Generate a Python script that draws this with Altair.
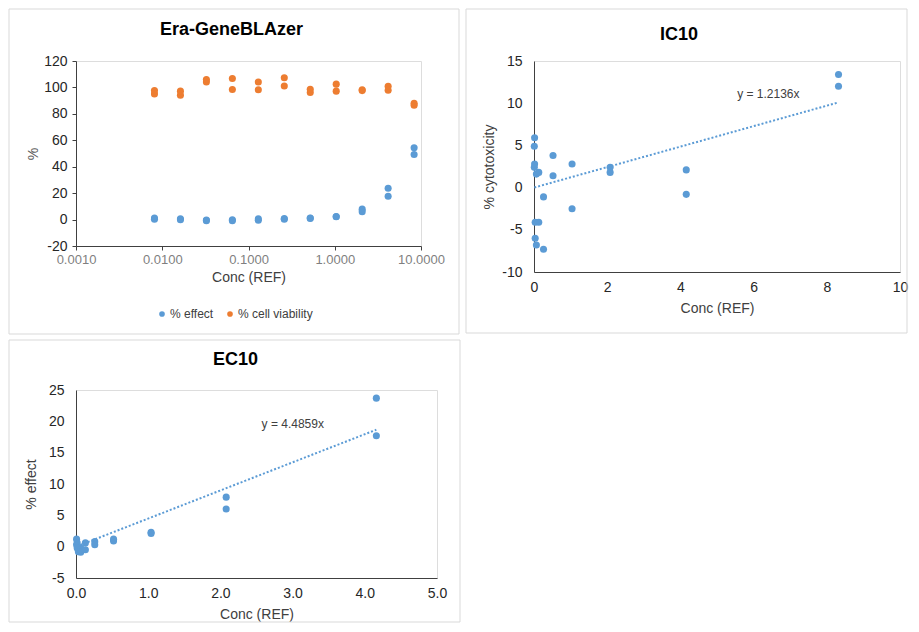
import altair as alt
import pandas as pd

# ---------------- data ----------------
conc = [0.008125, 0.01625, 0.0325, 0.065, 0.13, 0.26, 0.52, 1.04, 2.08, 4.16, 8.32]

effect_rep1 = [1.2, 0.6, -0.4, -0.2, 0.6, 0.8, 1.2, 2.3, 7.9, 23.7, 54.3]
effect_rep2 = [0.3, -0.2, -0.8, -0.9, -0.5, 0.3, 0.9, 2.1, 6.0, 17.7, 49.2]

viability_rep1 = [95.1, 94.1, 104.1, 98.4, 98.2, 101.1, 96.2, 97.2, 97.6, 97.9, 86.6]
viability_rep2 = [97.6, 97.2, 106.0, 106.8, 104.1, 107.3, 98.6, 102.5, 98.2, 100.8, 88.0]

cytotox_rep1 = [4.9, 5.9, -4.1, 1.6, 1.8, -1.1, 3.8, 2.8, 2.4, 2.1, 13.4]
cytotox_rep2 = [2.4, 2.8, -6.0, -6.8, -4.1, -7.3, 1.4, -2.5, 1.8, -0.8, 12.0]

series_names = ["% effect", "% cell viability"]
log_ticks = [0.001, 0.01, 0.1, 1, 10]
tl_y_ticks = [-20, 0, 20, 40, 60, 80, 100, 120]
ic_x_ticks = [0, 2, 4, 6, 8, 10]
ic_y_ticks = [-10, -5, 0, 5, 10, 15]
ec_x_ticks = [0, 1, 2, 3, 4, 5]
ec_y_ticks = [-5, 0, 5, 10, 15, 20, 25]

ic_slope = 1.2136
ec_slope = 4.4859
ic_eq = "y = 1.2136x"
ec_eq = "y = 4.4859x"
ic_eq_at = (5.55, 11.1)   # annotation anchor (data units)
ec_eq_at = (2.57, 19.5)

# ---------------- styles ----------------
FONT = "Liberation Sans"
BLUE = "#5B9BD5"
ORANGE = "#ED7D31"
BORDER = "#D9D9D9"
AXIS = "#404040"
PT = 50
HYPHEN = "replace(datum.label, '\u2212', '-')"


def frame(x1, x2, y1, y2):
    return alt.Chart(pd.DataFrame({"k": [0]})).mark_rect(
        fillOpacity=0, stroke=BORDER, strokeWidth=1
    ).encode(x=alt.value(x1), x2=alt.value(x2), y=alt.value(y1), y2=alt.value(y2))


def title(text, dx, offset):
    return alt.Title(text, font=FONT, fontSize=18, fontWeight="bold", color="#000000",
                     anchor="middle", frame="group", dx=dx, offset=offset)


def axis(**kw):
    base = dict(grid=False, domainColor=AXIS, labelFont=FONT, labelFontSize=14,
                labelColor="#262626", labelFlush=False, labelOverlap=False,
                titleFont=FONT, titleFontSize=14, titleFontWeight="normal", titleColor=AXIS)
    base.update(kw)
    return alt.Axis(**base)


# ---------------- top-left: Era-GeneBLAzer ----------------
TLW, TLH = 345, 185
tl_df = pd.DataFrame({
    "conc": conc * 4,
    "value": effect_rep1 + effect_rep2 + viability_rep1 + viability_rep2,
    "series": [series_names[0]] * (2 * len(conc)) + [series_names[1]] * (2 * len(conc)),
})

tl_pts = alt.Chart(tl_df).mark_circle(size=PT, opacity=1).encode(
    x=alt.X("conc:Q",
            scale=alt.Scale(type="log", domain=[0.001, 10]),
            axis=axis(values=log_ticks, format=".4f", title="Conc (REF)",
                      tickSize=4, tickColor=AXIS, labelColor="#7F7F7F", labelFontSize=13,
                      labelPadding=3, titlePadding=4)),
    y=alt.Y("value:Q",
            scale=alt.Scale(domain=[-20, 120], nice=False),
            axis=axis(values=tl_y_ticks, title="%", tickSize=4, tickColor=AXIS,
                      labelPadding=5, titleColor="#595959", titlePadding=3,
                      labelExpr=HYPHEN)),
    color=alt.Color("series:N",
                    scale=alt.Scale(domain=series_names, range=[BLUE, ORANGE]),
                    legend=alt.Legend(title=None, orient="none", direction="horizontal",
                                      legendX=80, legendY=247, symbolType="circle",
                                      symbolSize=32, symbolStrokeWidth=0,
                                      labelFont=FONT, labelFontSize=12, labelColor=AXIS,
                                      labelOffset=2, columnPadding=10)),
)

tl = alt.layer(frame(-67, TLW + 38, -52, TLH + 88), tl_pts).properties(
    width=TLW, height=TLH, title=title("Era-GeneBLAzer", -17, -30))

# ---------------- top-right: IC10 ----------------
ICW, ICH = 366, 211
ic_df = pd.DataFrame({"conc": conc * 2, "cyto": cytotox_rep1 + cytotox_rep2})
ic_x = alt.X("conc:Q", scale=alt.Scale(domain=[0, 10], nice=False),
             axis=axis(values=ic_x_ticks, title="Conc (REF)", ticks=False,
                       labelPadding=8, titlePadding=7))
ic_y = alt.Y("cyto:Q", scale=alt.Scale(domain=[-10, 15], nice=False),
             axis=axis(values=ic_y_ticks, title="% cytotoxicity", ticks=False,
                       labelPadding=12, titlePadding=5, labelExpr=HYPHEN))
ic_pts = alt.Chart(ic_df).mark_circle(size=PT, opacity=1, color=BLUE).encode(x=ic_x, y=ic_y)
ic_trend = alt.Chart(pd.DataFrame({"conc": [min(conc), max(conc)]})).transform_calculate(
    cyto=f"{ic_slope} * datum.conc"
).mark_line(color=BLUE, strokeWidth=2, strokeDash=[2, 2]).encode(x=ic_x, y=ic_y)
ic_txt = alt.Chart(pd.DataFrame({"conc": [ic_eq_at[0]], "cyto": [ic_eq_at[1]], "t": [ic_eq]})).mark_text(
    align="left", baseline="middle", font=FONT, fontSize=12, color=AXIS
).encode(x=ic_x, y=ic_y, text="t:N")

ic = alt.layer(frame(-68, ICW + 7, -52, ICH + 61), ic_pts, ic_trend, ic_txt).properties(
    width=ICW, height=ICH, title=title("IC10", -38, -35))

# ---------------- bottom-left: EC10 ----------------
ECW, ECH = 361, 188
ec_df = pd.DataFrame({"conc": conc[:-1] * 2, "effect": effect_rep1[:-1] + effect_rep2[:-1]})
ec_x = alt.X("conc:Q", scale=alt.Scale(domain=[0, 5], nice=False),
             axis=axis(values=ec_x_ticks, format=".1f", title="Conc (REF)", ticks=False,
                       labelPadding=8, titlePadding=7))
ec_y = alt.Y("effect:Q", scale=alt.Scale(domain=[-5, 25], nice=False),
             axis=axis(values=ec_y_ticks, title="% effect", ticks=False,
                       labelPadding=12, titlePadding=10, labelExpr=HYPHEN))
ec_pts = alt.Chart(ec_df).mark_circle(size=PT, opacity=1, color=BLUE).encode(x=ec_x, y=ec_y)
ec_trend = alt.Chart(pd.DataFrame({"conc": [min(conc), max(conc[:-1])]})).transform_calculate(
    effect=f"{ec_slope} * datum.conc"
).mark_line(color=BLUE, strokeWidth=2, strokeDash=[2, 2]).encode(x=ec_x, y=ec_y)
ec_txt = alt.Chart(pd.DataFrame({"conc": [ec_eq_at[0]], "effect": [ec_eq_at[1]], "t": [ec_eq]})).mark_text(
    align="left", baseline="middle", font=FONT, fontSize=12, color=AXIS
).encode(x=ec_x, y=ec_y, text="t:N")

ec = alt.layer(frame(-67, ECW + 23, -50, ECH + 44), ec_pts, ec_trend, ec_txt).properties(
    width=ECW, height=ECH, title=title("EC10", -21, -29))

chart = alt.concat(tl, ic, ec, columns=2, spacing=4, align="none", padding=0).configure_view(
    strokeWidth=0
).configure_axis(labelOverlap=False).configure(background="white")

chart.save("out.html", embed_options={"renderer": "svg", "actions": False})
